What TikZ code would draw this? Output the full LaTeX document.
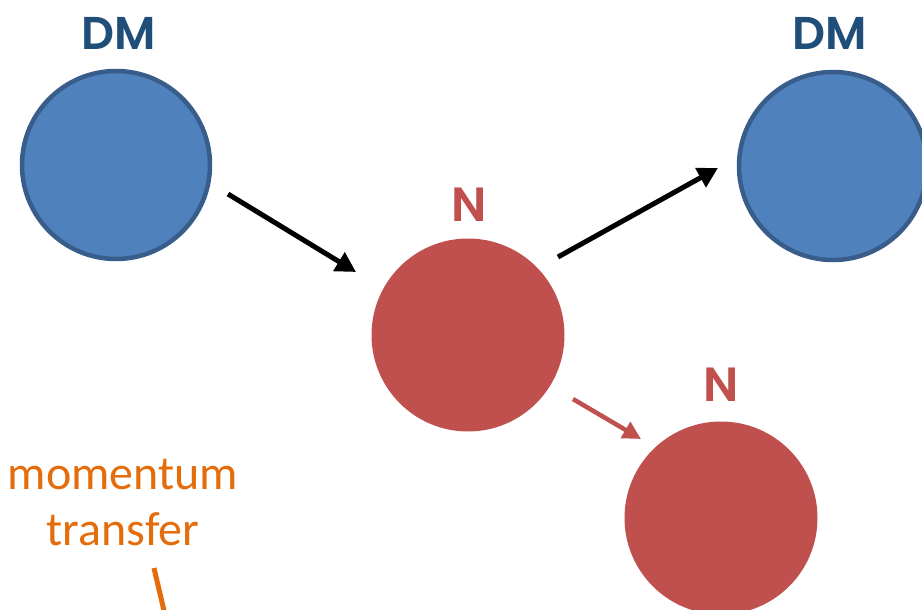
\documentclass[tikz,border=0pt]{standalone}
\usepackage{fontspec}
\setmainfont{Carlito}
\newfontfamily\labfont{Poppins SemiBold}
\usetikzlibrary{arrows.meta}
\definecolor{dmfill}{RGB}{79,129,189}
\definecolor{dmdraw}{RGB}{56,93,138}
\definecolor{dmtext}{RGB}{31,78,121}
\definecolor{nfill}{RGB}{192,80,77}
\definecolor{orangetxt}{RGB}{228,108,10}
\tikzset{
  dmball/.style={circle,fill=dmfill,draw=dmdraw,line width=4.5pt,minimum size=188pt,inner sep=0pt},
  nball/.style={circle,fill=nfill,minimum size=193pt,inner sep=0pt},
  dmlab/.style={text=dmtext,font=\labfont\fontsize{46}{50}\selectfont,inner sep=0pt},
  nlab/.style={text=nfill,font=\labfont\fontsize{48}{52}\selectfont,inner sep=0pt},
  blackarrow/.style={draw=black,line width=5pt,-{Triangle[length=20pt,width=21pt]}},
  redarrow/.style={draw=nfill,line width=4.5pt,-{Triangle[length=18pt,width=18pt]}},
  momtext/.style={text=orangetxt,font=\fontsize{48}{56}\selectfont,align=center,inner sep=0pt},
}
\begin{document}
\begin{tikzpicture}[x=1pt,y=-1pt]
\useasboundingbox (0,0) rectangle (922,610);
\node[dmball] (dm1) at (116,165) {};
\node[dmball] (dm2) at (833,166) {};
\node[nball] (n1) at (468,335) {};
\node[nball] (n2) at (721,518) {};
\node[dmlab] (dml1) at (119,33) {DM};
\node[dmlab] (dml2) at (830,33) {DM};
\node[nlab] (nl1) at (469,205) {N};
\node[nlab] (nl2) at (721,385) {N};
\coordinate (a1s) at (228,194);
\coordinate (a1e) at (356,272);
\coordinate (a2s) at (558,257);
\coordinate (a2e) at (718,168);
\coordinate (a3s) at (573,399);
\coordinate (a3e) at (641,439);
\draw[blackarrow] (a1s) -- (a1e);
\draw[blackarrow] (a2s) -- (a2e);
\draw[redarrow] (a3s) -- (a3e);
\node[momtext] (mt) at (123,502) {momentum\\transfer};
\coordinate (ms) at (154,568);
\coordinate (me) at (165,615);
\draw[orangetxt,line width=5pt] (ms) -- (me);
\end{tikzpicture}
\end{document}
